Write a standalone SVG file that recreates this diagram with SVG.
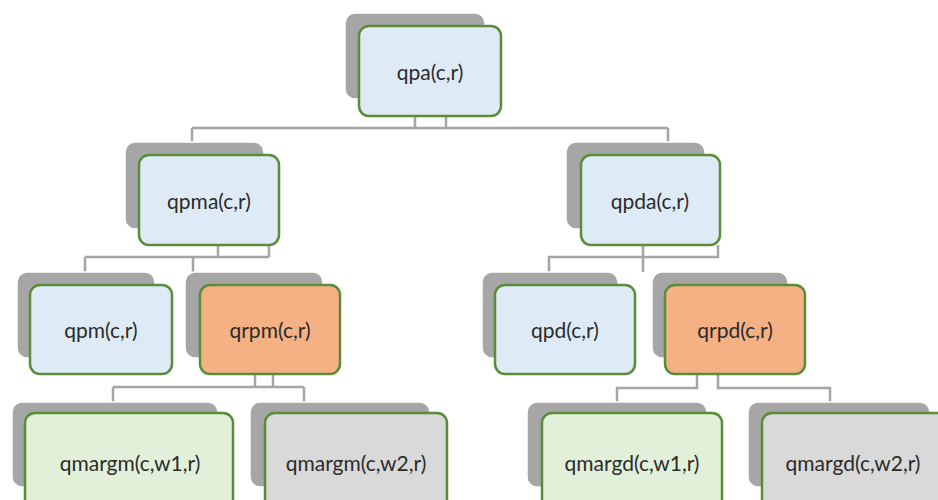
<svg xmlns="http://www.w3.org/2000/svg" width="938" height="500" viewBox="0 0 938 500">
<style>
.sh{fill:#a6a6a6;stroke:#ffffff;stroke-width:1.5}
.fr{stroke:#5b8c3a;stroke-width:2.5}
.blue{fill:#deebf7}
.orange{fill:#f4b183}
.green{fill:#e2f0d9}
.gray{fill:#d9d9d9}
.t{font-family:Lato,"Open Sans","Liberation Sans",sans-serif;font-size:21px;fill:#2b2b2b;text-anchor:middle;dominant-baseline:central}
.c{fill:none;stroke:#a5a5a5;stroke-width:2.5}
</style>
<rect width="938" height="500" fill="#ffffff"/>
<g id="connectors">
<path class="c" d="M415 116V128M446 116V128M192 128H668M192 128V142M668 128V142"/>
<path class="c" d="M218 245V257M269 245V257M85 257H269M85 257V272M193 257V272"/>
<path class="c" d="M643 245V272M718 245V257H549V272"/>
<path class="c" d="M255 374V387M273 374V387M113 387H304M113 387V402M304 387V402"/>
<path class="c" d="M697 374V388H617V402M718 374V388H830V402"/>
</g>
<g id="qpa">
<rect class="sh" x="345" y="13" width="140" height="86" rx="10"/>
<rect class="fr blue" x="359" y="26" width="142" height="90" rx="10"/>
<text class="t" x="430" y="71">qpa(c,r)</text>
</g>
<g id="qpma">
<rect class="sh" x="125" y="142" width="139" height="87" rx="10"/>
<rect class="fr blue" x="139" y="155" width="140" height="90" rx="10"/>
<text class="t" x="209" y="200">qpma(c,r)</text>
</g>
<g id="qpda">
<rect class="sh" x="566" y="142" width="139" height="87" rx="10"/>
<rect class="fr blue" x="581" y="155" width="139" height="90" rx="10"/>
<text class="t" x="650" y="200">qpda(c,r)</text>
</g>
<g id="qpm">
<rect class="sh" x="17" y="272" width="138" height="86" rx="10"/>
<rect class="fr blue" x="30" y="285" width="142" height="89" rx="10"/>
<text class="t" x="101" y="329">qpm(c,r)</text>
</g>
<g id="qrpm">
<rect class="sh" x="185" y="272" width="138" height="86" rx="10"/>
<rect class="fr orange" x="200" y="285" width="140" height="89" rx="10"/>
<text class="t" x="270" y="329">qrpm(c,r)</text>
</g>
<g id="qpd">
<rect class="sh" x="482" y="272" width="136" height="86" rx="10"/>
<rect class="fr blue" x="495" y="285" width="140" height="89" rx="10"/>
<text class="t" x="565" y="329">qpd(c,r)</text>
</g>
<g id="qrpd">
<rect class="sh" x="652" y="272" width="136" height="86" rx="10"/>
<rect class="fr orange" x="665" y="285" width="140" height="89" rx="10"/>
<text class="t" x="735" y="329">qrpd(c,r)</text>
</g>
<g id="qmargm1">
<rect class="sh" x="12" y="402" width="206" height="85" rx="10"/>
<rect class="fr green" x="25" y="413" width="208" height="98" rx="10"/>
<text class="t" x="130" y="462">qmargm(c,w1,r)</text>
</g>
<g id="qmargm2">
<rect class="sh" x="250" y="402" width="180" height="85" rx="10"/>
<rect class="fr gray" x="265" y="413" width="182" height="98" rx="10"/>
<text class="t" x="356" y="462">qmargm(c,w2,r)</text>
</g>
<g id="qmargd1">
<rect class="sh" x="527" y="402" width="180" height="85" rx="10"/>
<rect class="fr green" x="542" y="413" width="180" height="98" rx="10"/>
<text class="t" x="632" y="462">qmargd(c,w1,r)</text>
</g>
<g id="qmargd2">
<rect class="sh" x="748" y="402" width="182" height="85" rx="10"/>
<rect class="fr gray" x="762" y="413" width="190" height="98" rx="10"/>
<text class="t" x="853" y="462">qmargd(c,w2,r)</text>
</g>
</svg>
